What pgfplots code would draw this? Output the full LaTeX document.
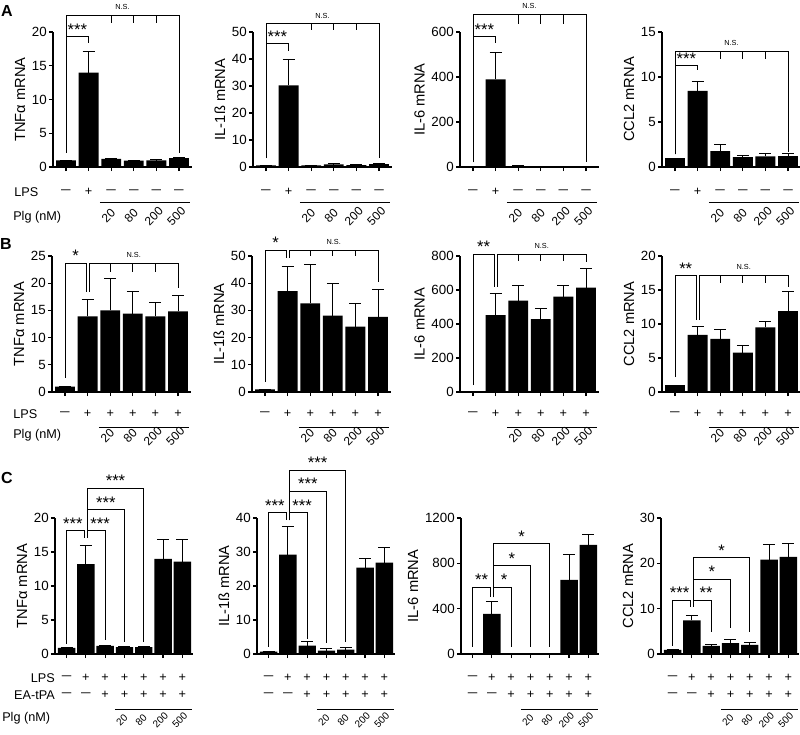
\documentclass[border=0pt]{standalone}
\usepackage{fontspec}
\setmainfont{Liberation Sans}
\usepackage{graphicx}
\usepackage{pgfplots}
\pgfplotsset{compat=1.18}

\newcommand{\fs}[1]{\fontsize{#1}{#1}\selectfont}
\newcommand{\mi}{\scalebox{1.35}[1]{–}}
\newcommand{\pxy}[2]{({#1*0.75pt},{-#2*0.75pt})}

\tikzset{
  brk/.style={line width=0.7pt, black},
  star/.style={midway, above, inner sep=0.6pt, font=\fs{12.5}},
  ns/.style={midway, above, inner sep=0pt, yshift=4pt, font=\fs{5.5}},
  cond/.style={font=\fs{9.5}, inner sep=0pt},
  plg/.style={font=\fs{9}, rotate=45, inner sep=0pt},
  plgc/.style={font=\fs{7.5}, rotate=45, inner sep=0pt},
  lab/.style={font=\fs{9.5}, inner sep=0pt},
}

\pgfplotsset{
  panel/.style={
    scale only axis, anchor=south west, clip=false,
    axis lines=left, axis line style={-, line width=0.9pt},
    tick align=outside, major tick length=3pt,
    tick style={line width=0.9pt, black},
    ymin=0,
    ticklabel style={font=\fs{10}},
    yticklabel style={inner sep=1.5pt},
    ylabel style={font=\fs{11}},
    /pgf/number format/assume math mode=true,
    /pgf/number format/1000 sep={},
    scaled y ticks=false,
    xticklabels={},
  },
  six/.style={panel, width=104.25pt, height=101.25pt, xmin=-0.575, xmax=5.575, xtick={0,...,5}},
  seven/.style={panel, width=103.5pt, height=102pt, xmin=-0.6, xmax=6.55, xtick={0,...,6}},
  bars/.style={ybar, fill=black, draw=none, bar width=#1,
    error bars/.cd, y dir=plus, y explicit,
    error bar style={line width=0.75pt, black},
    error mark options={rotate=90, mark size=4.5pt, line width=0.75pt, black}},
}

\newcommand{\brk}[7][0pt]{\draw[brk] (axis cs:#2,#5) -- (axis cs:#2,#4) -- node[star, xshift=#1]{#7} (axis cs:#3,#4) -- (axis cs:#3,#6);}
\newcommand{\brkns}[6]{\draw[brk] (axis cs:#1,#4) -- (axis cs:#1,#3) -- node[ns]{N.S.} (axis cs:#2,#3) -- (axis cs:#2,#5);
  \draw[brk] (axis cs:2,#3) -- (axis cs:2,#6);
  \draw[brk] (axis cs:3,#3) -- (axis cs:3,#6);
  \draw[brk] (axis cs:4,#3) -- (axis cs:4,#6);}
\newcommand{\sym}[3]{\node[cond] at ([yshift=#2]axis cs:#1,0) {#3};}
\newcommand{\rowsix}[7]{\sym{0}{#1}{#2}\sym{1}{#1}{#3}\sym{2}{#1}{#4}\sym{3}{#1}{#5}\sym{4}{#1}{#6}\sym{5}{#1}{#7}}
\newcommand{\rowseven}[8]{\sym{0}{#1}{#2}\sym{1}{#1}{#3}\sym{2}{#1}{#4}\sym{3}{#1}{#5}\sym{4}{#1}{#6}\sym{5}{#1}{#7}\sym{6}{#1}{#8}}
\newcommand{\plgsix}[2]{\draw[line width=0.75pt] ([yshift=#1]axis cs:1.5,0) -- ([yshift=#1]axis cs:5.5,0);
  \node[plg] at ([xshift=-2pt,yshift=#2]axis cs:2,0) {20};
  \node[plg] at ([xshift=-2pt,yshift=#2]axis cs:3,0) {80};
  \node[plg] at ([xshift=-2pt,yshift=#2]axis cs:4,0) {200};
  \node[plg] at ([xshift=-2pt,yshift=#2]axis cs:5,0) {500};}
\newcommand{\plgseven}[2]{\draw[line width=0.75pt] ([yshift=#1]axis cs:2.5,0) -- ([yshift=#1]axis cs:6.5,0);
  \node[plgc] at ([xshift=-2pt,yshift=#2]axis cs:3,0) {20};
  \node[plgc] at ([xshift=-2pt,yshift=#2]axis cs:4,0) {80};
  \node[plgc] at ([xshift=-2pt,yshift=#2]axis cs:5,0) {200};
  \node[plgc] at ([xshift=-2pt,yshift=#2]axis cs:6,0) {500};}

\begin{document}
\begin{tikzpicture}
\path[use as bounding box] (0pt,0pt) rectangle (600pt,-551.25pt);

% panel letters and row labels
\node[font=\fs{12}\bfseries] at \pxy{7}{11} {A};
\node[font=\fs{12}\bfseries] at \pxy{6}{244} {B};
\node[font=\fs{12}\bfseries] at \pxy{7}{478} {C};
\node[anchor=west, lab] at \pxy{14}{192} {LPS};
\node[anchor=west, lab] at \pxy{13}{217} {Plg (nM)};
\node[anchor=west, lab] at \pxy{13}{414} {LPS};
\node[anchor=west, lab] at \pxy{13}{435} {Plg (nM)};
\node[anchor=east, lab] at \pxy{55}{678} {LPS};
\node[anchor=east, lab] at \pxy{55}{695} {EA-tPA};
\node[anchor=west, lab] at \pxy{2}{718} {Plg (nM)};

% ---------------- Row A ----------------
\begin{axis}[six, at={(39.75pt,-125.25pt)}, ymax=20, ytick={0,5,...,20}, ylabel={TNFα mRNA}]
\addplot[bars=0.88] coordinates {(0,1) +- (0,0) (1,14) +- (0,3.1) (2,1.2) +- (0,0.1) (3,0.95) +- (0,0.05) (4,1.0) +- (0,0.1) (5,1.3) +- (0,0.1)};
\brkns{0}{5}{22.5}{2.1}{2.1}{21.3}
\brk{0}{1}{19.3}{2.1}{18.4}{***}
\rowsix{-18.75pt}{\mi}{+}{\mi}{\mi}{\mi}{\mi}
\plgsix{-26.25pt}{-36.75pt}
\end{axis}

\begin{axis}[six, at={(189.75pt,-125.25pt)}, ymax=50, ytick={0,10,...,50}, ylabel={IL-1ß mRNA}]
\addplot[bars=0.88] coordinates {(0,0.6) +- (0,0) (1,30.2) +- (0,9.6) (2,0.6) +- (0,0.1) (3,1.0) +- (0,0.2) (4,0.7) +- (0,0.1) (5,1.1) +- (0,0.2)};
\brkns{0}{5}{53}{3.3}{3.3}{50.7}
\brk{0}{1}{45.6}{3.3}{43}{***}
\rowsix{-18.75pt}{\mi}{+}{\mi}{\mi}{\mi}{\mi}
\plgsix{-26.25pt}{-36.75pt}
\end{axis}

\begin{axis}[six, at={(345pt,-125.25pt)}, ymax=600, ytick={0,200,400,600}, ylabel={IL-6 mRNA}]
\addplot[bars=0.88] coordinates {(0,1) +- (0,0) (1,390) +- (0,120) (2,4) +- (0,2) (3,1) +- (0,1) (4,3) +- (0,1) (5,3) +- (0,1)};
\brkns{0}{5}{680}{22}{22}{635}
\brk{0}{1}{578}{22}{551}{***}
\rowsix{-18.75pt}{\mi}{+}{\mi}{\mi}{\mi}{\mi}
\plgsix{-26.25pt}{-36.75pt}
\end{axis}

\begin{axis}[six, at={(496.5pt,-125.25pt)}, ymax=15, ytick={0,5,10,15}, ylabel={CCL2 mRNA}]
\addplot[bars=0.88] coordinates {(0,1) +- (0,0) (1,8.45) +- (0,1.1) (2,1.76) +- (0,0.7) (3,1.1) +- (0,0.15) (4,1.18) +- (0,0.36) (5,1.21) +- (0,0.26)};
\brkns{0}{5}{12.8}{1.4}{1.7}{12.0}
\brk{0}{1}{11.3}{1.4}{10.8}{***}
\rowsix{-18.75pt}{\mi}{+}{\mi}{\mi}{\mi}{\mi}
\plgsix{-26.25pt}{-36.75pt}
\end{axis}

% ---------------- Row B ----------------
\begin{axis}[six, height=102pt, at={(39pt,-294pt)}, ymax=25, ytick={0,5,...,25}, ylabel={TNFα mRNA}]
\addplot[bars=0.88] coordinates {(0,1) +- (0,0) (1,13.9) +- (0,3.1) (2,15.0) +- (0,5.8) (3,14.4) +- (0,4.1) (4,13.9) +- (0,2.5) (5,14.8) +- (0,2.9)};
\brk{0}{0.95}{23.7}{2.6}{18.4}{*}
\brkns{1.08}{5}{23.7}{18.4}{19.1}{22}
\rowsix{-16.5pt}{\mi}{+}{+}{+}{+}{+}
\plgsix{-26.25pt}{-33pt}
\end{axis}

\begin{axis}[six, height=102pt, at={(189pt,-294pt)}, ymax=50, ytick={0,10,...,50}, ylabel={IL-1ß mRNA}]
\addplot[bars=0.88] coordinates {(0,1) +- (0,0) (1,37.1) +- (0,9.2) (2,32.6) +- (0,14.1) (3,28.1) +- (0,11.7) (4,24.0) +- (0,8.6) (5,27.6) +- (0,10.0)};
\brk{0}{0.95}{52.2}{3.7}{49.3}{*}
\brkns{1.08}{5}{52.2}{49.3}{40.4}{50}
\rowsix{-16.5pt}{\mi}{+}{+}{+}{+}{+}
\plgsix{-26.25pt}{-33pt}
\end{axis}

\begin{axis}[six, height=102pt, at={(345pt,-294pt)}, ymax=800, ytick={0,200,...,800}, ylabel={IL-6 mRNA}]
\addplot[bars=0.88] coordinates {(0,1) +- (0,0) (1,453) +- (0,129) (2,537) +- (0,92) (3,429) +- (0,64) (4,561) +- (0,68) (5,614) +- (0,110)};
\brk{0}{0.95}{812}{41}{618}{**}
\brkns{1.08}{5}{812}{618}{765}{770}
\rowsix{-16.5pt}{\mi}{+}{+}{+}{+}{+}
\plgsix{-26.25pt}{-33pt}
\end{axis}

\begin{axis}[six, height=102pt, at={(496.5pt,-294pt)}, ymax=20, ytick={0,5,...,20}, ylabel={CCL2 mRNA}]
\addplot[bars=0.88] coordinates {(0,1) +- (0,0) (1,8.4) +- (0,1.2) (2,7.8) +- (0,1.4) (3,5.8) +- (0,1.0) (4,9.5) +- (0,0.8) (5,11.9) +- (0,2.9)};
\brk{0}{0.95}{17.1}{2.2}{10.6}{**}
\brkns{1.08}{5}{17.1}{10.6}{15.5}{16}
\rowsix{-16.5pt}{\mi}{+}{+}{+}{+}{+}
\plgsix{-26.25pt}{-33pt}
\end{axis}

% ---------------- Row C ----------------
\begin{axis}[seven, at={(41.25pt,-490.5pt)}, ymax=20, ytick={0,5,...,20}, ylabel={TNFα mRNA}]
\addplot[bars=0.9] coordinates {(0,0.9) +- (0,0) (1,13.2) +- (0,2.8) (2,1.2) +- (0,0.12) (3,1.0) +- (0,0.15) (4,1.0) +- (0,0.1) (5,14.0) +- (0,2.8) (6,13.6) +- (0,3.2)};
\brk[-2pt]{0}{0.93}{18.1}{1.5}{17.1}{***}
\brk[3pt]{1.07}{2}{18.1}{17.1}{2.1}{***}
\brk{1.07}{3}{21.2}{17.1}{1.8}{***}
\brk{1.07}{4}{24.4}{17.1}{1.8}{***}
\rowseven{-18pt}{\mi}{+}{+}{+}{+}{+}{+}
\rowseven{-30.75pt}{\mi}{\mi}{+}{+}{+}{+}{+}
\plgseven{-41.25pt}{-49.5pt}
\end{axis}

\begin{axis}[seven, at={(192.75pt,-490.5pt)}, ymax=40, ytick={0,10,...,40}, ylabel={IL-1ß mRNA}]
\addplot[bars=0.9] coordinates {(0,0.7) +- (0,0) (1,29.2) +- (0,8.2) (2,2.5) +- (0,1.3) (3,1.0) +- (0,0.5) (4,1.3) +- (0,0.7) (5,25.4) +- (0,2.8) (6,26.9) +- (0,4.5)};
\brk[-2pt]{0}{0.93}{41.5}{2.1}{39.4}{***}
\brk[3pt]{1.07}{2}{41.5}{39.4}{4.4}{***}
\brk{1.07}{3}{47.9}{39.4}{3.2}{***}
\brk{1.07}{4}{54.1}{39.4}{3.5}{***}
\rowseven{-18pt}{\mi}{+}{+}{+}{+}{+}{+}
\rowseven{-30.75pt}{\mi}{\mi}{+}{+}{+}{+}{+}
\plgseven{-41.25pt}{-49.5pt}
\end{axis}

\begin{axis}[seven, at={(345.75pt,-490.5pt)}, ymax=1200, ytick={0,400,800,1200}, ylabel={IL-6 mRNA}]
\addplot[bars=0.9] coordinates {(0,3) +- (0,0) (1,354) +- (0,106) (2,2) +- (0,0) (3,1) +- (0,0) (4,1) +- (0,0) (5,655) +- (0,227) (6,962) +- (0,91)};
\brk{0}{0.93}{591}{62}{503}{**}
\brk[1.5pt]{1.07}{2}{591}{503}{62}{*}
\brk{1.07}{3}{777}{503}{62}{*}
\brk{1.07}{4}{971}{503}{62}{*}
\rowseven{-18pt}{\mi}{+}{+}{+}{+}{+}{+}
\rowseven{-30.75pt}{\mi}{\mi}{+}{+}{+}{+}{+}
\plgseven{-41.25pt}{-49.5pt}
\end{axis}

\begin{axis}[seven, at={(495.75pt,-490.5pt)}, ymax=30, ytick={0,10,20,30}, ylabel={CCL2 mRNA}]
\addplot[bars=0.9] coordinates {(0,0.9) +- (0,0) (1,7.4) +- (0,1.0) (2,1.8) +- (0,0.4) (3,2.4) +- (0,0.9) (4,2.0) +- (0,0.6) (5,20.8) +- (0,3.4) (6,21.4) +- (0,2.9)};
\brk[-1.5pt]{0}{0.93}{11.9}{1.8}{10.4}{***}
\brk[3pt]{1.07}{2}{11.9}{10.4}{4.9}{**}
\brk{1.07}{3}{16.5}{10.4}{5.7}{*}
\brk{1.07}{4}{21.2}{10.4}{4.9}{*}
\rowseven{-18pt}{\mi}{+}{+}{+}{+}{+}{+}
\rowseven{-30.75pt}{\mi}{\mi}{+}{+}{+}{+}{+}
\plgseven{-41.25pt}{-49.5pt}
\end{axis}
\end{tikzpicture}
\end{document}
